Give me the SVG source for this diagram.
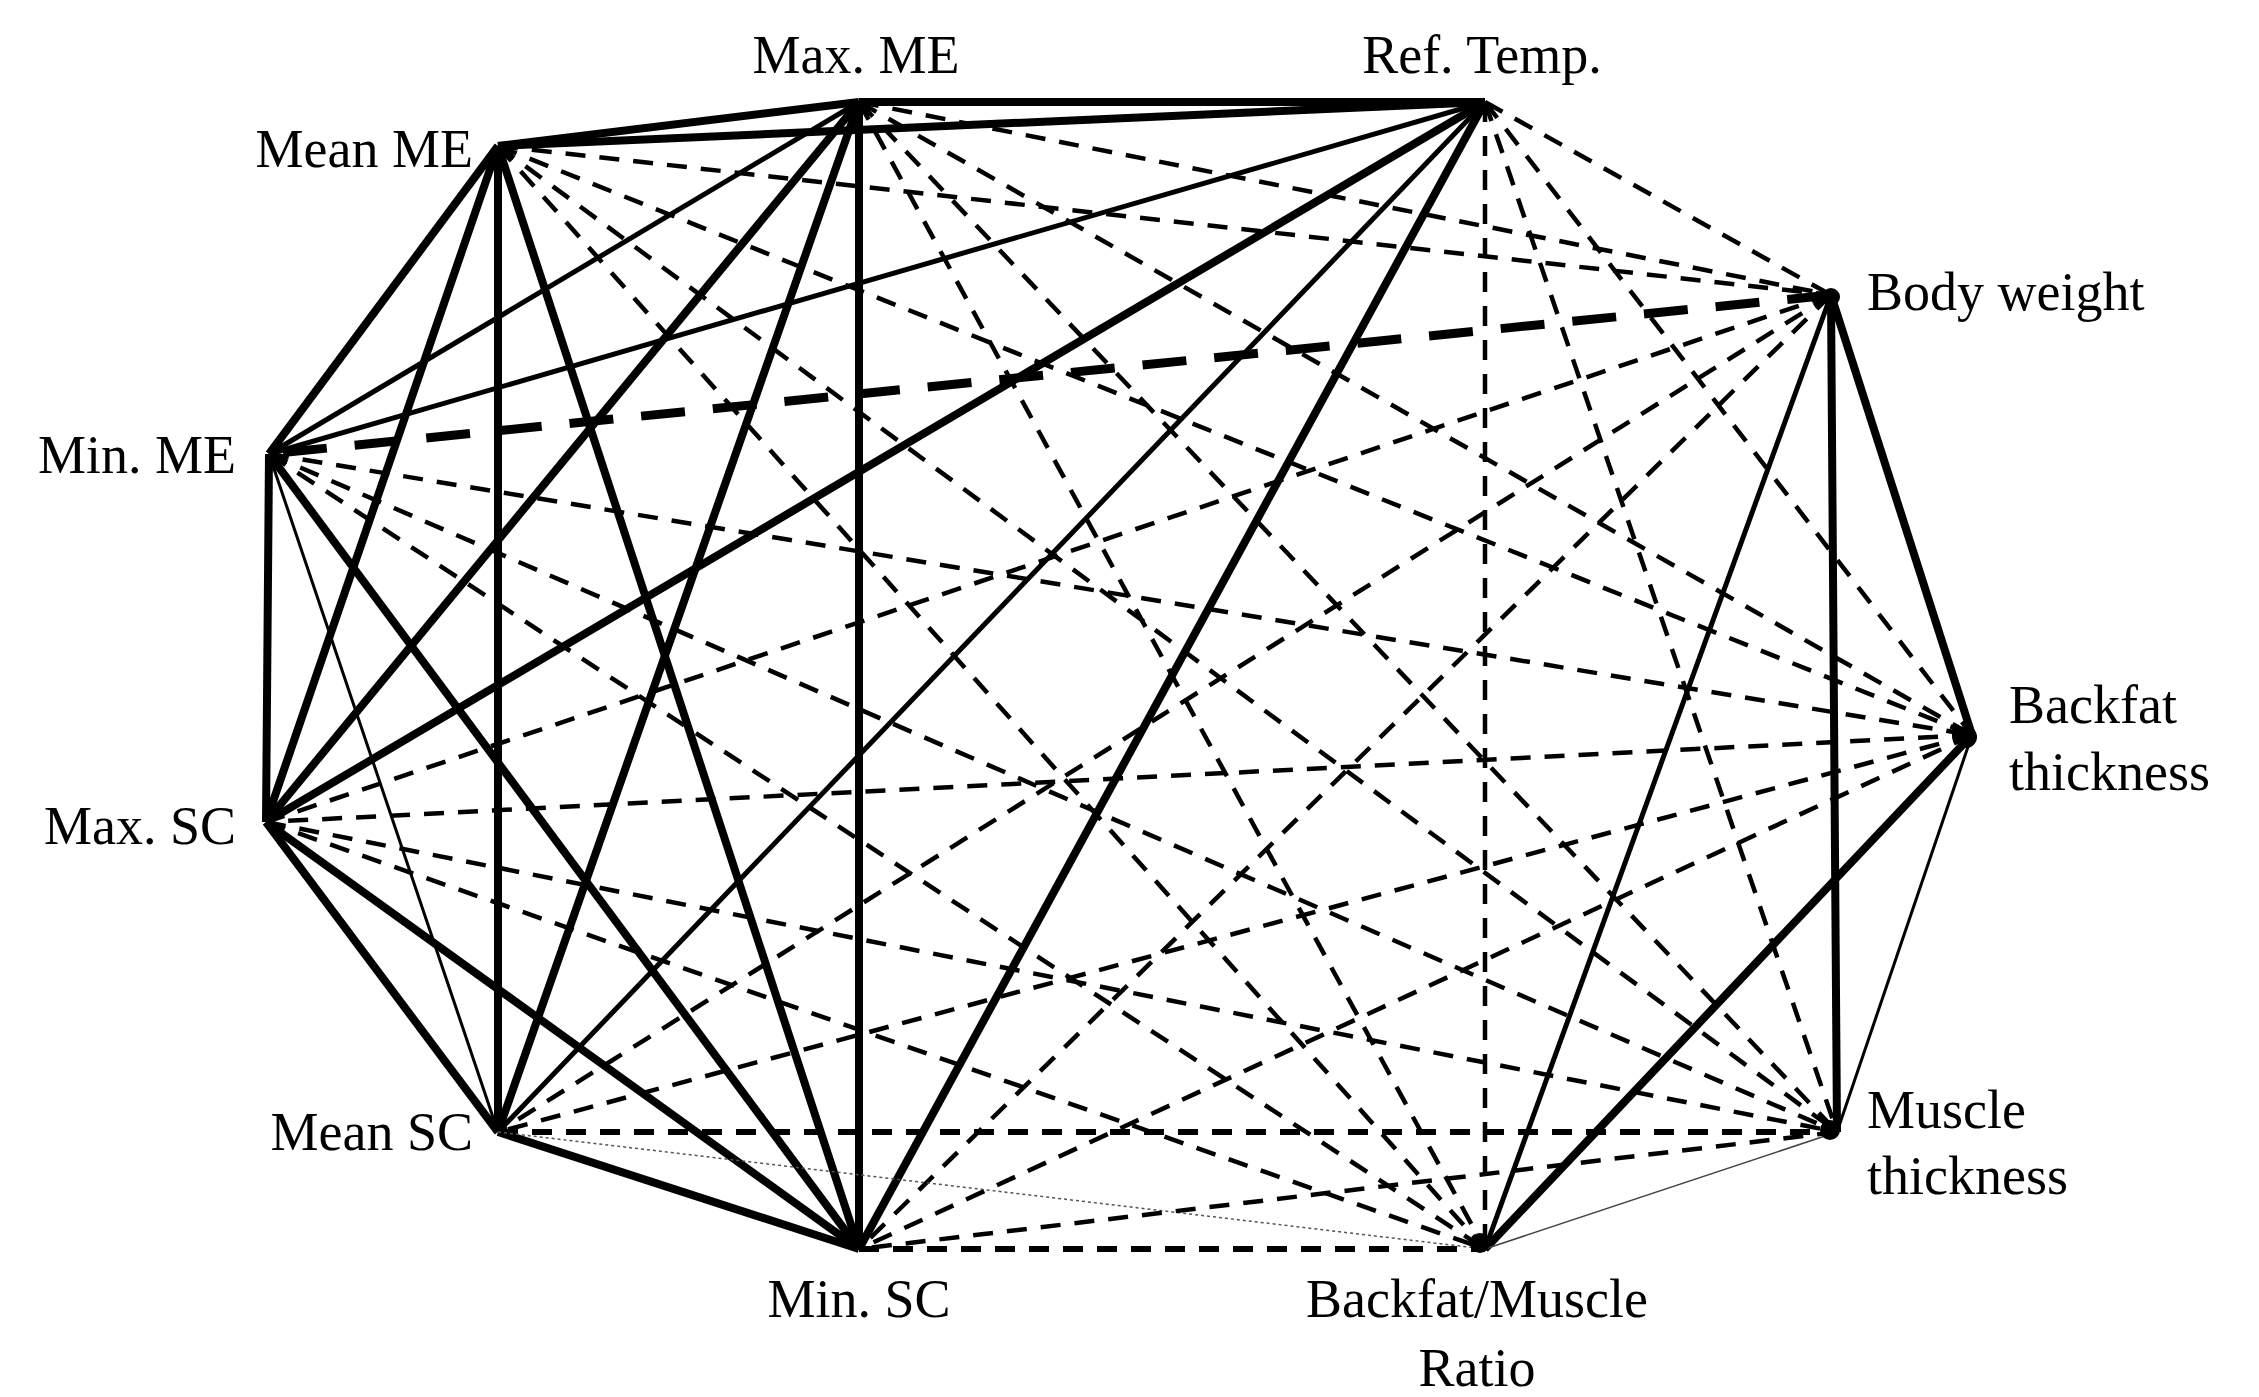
<svg xmlns="http://www.w3.org/2000/svg" width="2259" height="1397" viewBox="0 0 2259 1397">
<style>
.t{font-family:"Liberation Serif","DejaVu Serif",serif;font-size:54px;fill:#000}
line{stroke:#000;stroke-linecap:butt}
.k{stroke-width:8}
.m{stroke-width:5}
.n{stroke-width:3}
.d{stroke-width:4.5;stroke-dasharray:20 14}
.dk{stroke-width:9;stroke-dasharray:44 28}
.dt{stroke-width:1.5;stroke-dasharray:3 3;stroke:#555}
.hl{stroke-width:1.5;stroke:#444}
</style>
<rect width="2259" height="1397" fill="#fff"/>
<g id="connectors">
<line class="k" x1="859" y1="102" x2="1485" y2="102"/>
<line class="k" x1="859" y1="102" x2="498" y2="146"/>
<line class="d" x1="859" y1="102" x2="1831" y2="295"/>
<line class="m" x1="859" y1="102" x2="269" y2="454"/>
<line class="d" x1="859" y1="102" x2="1972" y2="735"/>
<line class="k" x1="859" y1="102" x2="266" y2="822"/>
<line class="k" x1="859" y1="102" x2="498" y2="1132"/>
<line class="d" x1="859" y1="102" x2="1837" y2="1132"/>
<line class="k" x1="859" y1="102" x2="859" y2="1249"/>
<line class="d" x1="859" y1="102" x2="1485" y2="1249"/>
<line class="k" x1="1485" y1="102" x2="498" y2="146"/>
<line class="d" x1="1485" y1="102" x2="1831" y2="295"/>
<line class="m" x1="1485" y1="102" x2="269" y2="454"/>
<line class="d" x1="1485" y1="102" x2="1972" y2="735"/>
<line class="k" x1="1485" y1="102" x2="266" y2="822"/>
<line class="m" x1="1485" y1="102" x2="498" y2="1132"/>
<line class="d" x1="1485" y1="102" x2="1837" y2="1132"/>
<line class="k" x1="1485" y1="102" x2="859" y2="1249"/>
<line class="d" x1="1485" y1="102" x2="1485" y2="1249"/>
<line class="d" x1="498" y1="146" x2="1831" y2="295"/>
<line class="k" x1="498" y1="146" x2="269" y2="454"/>
<line class="d" x1="498" y1="146" x2="1972" y2="735"/>
<line class="k" x1="498" y1="146" x2="266" y2="822"/>
<line class="k" x1="498" y1="146" x2="498" y2="1132"/>
<line class="d" x1="498" y1="146" x2="1837" y2="1132"/>
<line class="k" x1="498" y1="146" x2="859" y2="1249"/>
<line class="d" x1="498" y1="146" x2="1485" y2="1249"/>
<line class="dk" x1="1831" y1="295" x2="269" y2="454"/>
<line class="k" x1="1831" y1="295" x2="1972" y2="735"/>
<line class="d" x1="1831" y1="295" x2="266" y2="822"/>
<line class="d" x1="1831" y1="295" x2="498" y2="1132"/>
<line class="k" x1="1831" y1="295" x2="1837" y2="1132"/>
<line class="d" x1="1831" y1="295" x2="859" y2="1249"/>
<line class="m" x1="1831" y1="295" x2="1485" y2="1249"/>
<line class="d" x1="269" y1="454" x2="1972" y2="735"/>
<line class="k" x1="269" y1="454" x2="266" y2="822"/>
<line class="n" x1="269" y1="454" x2="498" y2="1132"/>
<line class="d" x1="269" y1="454" x2="1837" y2="1132"/>
<line class="k" x1="269" y1="454" x2="859" y2="1249"/>
<line class="d" x1="269" y1="454" x2="1485" y2="1249"/>
<line class="d" x1="1972" y1="735" x2="266" y2="822"/>
<line class="d" x1="1972" y1="735" x2="498" y2="1132"/>
<line class="n" x1="1972" y1="735" x2="1837" y2="1132"/>
<line class="d" x1="1972" y1="735" x2="859" y2="1249"/>
<line class="k" x1="1972" y1="735" x2="1485" y2="1249"/>
<line class="k" x1="266" y1="822" x2="498" y2="1132"/>
<line class="d" x1="266" y1="822" x2="1837" y2="1132"/>
<line class="k" x1="266" y1="822" x2="859" y2="1249"/>
<line class="d" x1="266" y1="822" x2="1485" y2="1249"/>
<line class="d" x1="498" y1="1132" x2="1837" y2="1132" style="stroke-width:6"/>
<line class="k" x1="498" y1="1132" x2="859" y2="1249"/>
<line class="dt" x1="498" y1="1132" x2="1485" y2="1249"/>
<line class="d" x1="1837" y1="1132" x2="859" y2="1249"/>
<line class="hl" x1="1837" y1="1132" x2="1485" y2="1249"/>
<line class="d" x1="859" y1="1249" x2="1485" y2="1249" style="stroke-width:6"/>
</g>
<g id="n-maxme"><text class="t" x="856" y="73" text-anchor="middle">Max. ME</text></g>
<g id="n-reftemp"><text class="t" x="1482" y="73" text-anchor="middle">Ref. Temp.</text></g>
<g id="n-meanme"><text class="t" x="473" y="167" text-anchor="end">Mean ME</text></g>
<g id="n-bw"><circle cx="1831" cy="297" r="9"/><text class="t" x="1867" y="310">Body weight</text></g>
<g id="n-minme"><text class="t" x="236" y="473" text-anchor="end">Min. ME</text></g>
<g id="n-bft"><circle cx="1966" cy="737" r="11"/><text class="t" x="2009" y="723">Backfat</text><text class="t" x="2009" y="790">thickness</text></g>
<g id="n-maxsc"><text class="t" x="236" y="844" text-anchor="end">Max. SC</text></g>
<g id="n-meansc"><text class="t" x="473" y="1150" text-anchor="end">Mean SC</text></g>
<g id="n-mt"><circle cx="1830" cy="1130" r="10"/><text class="t" x="1867" y="1128">Muscle</text><text class="t" x="1867" y="1194">thickness</text></g>
<g id="n-minsc"><text class="t" x="859" y="1317" text-anchor="middle">Min. SC</text></g>
<g id="n-ratio"><circle cx="1480" cy="1243" r="10"/><text class="t" x="1477" y="1317" text-anchor="middle">Backfat/Muscle</text><text class="t" x="1477" y="1386" text-anchor="middle">Ratio</text></g>
</svg>
